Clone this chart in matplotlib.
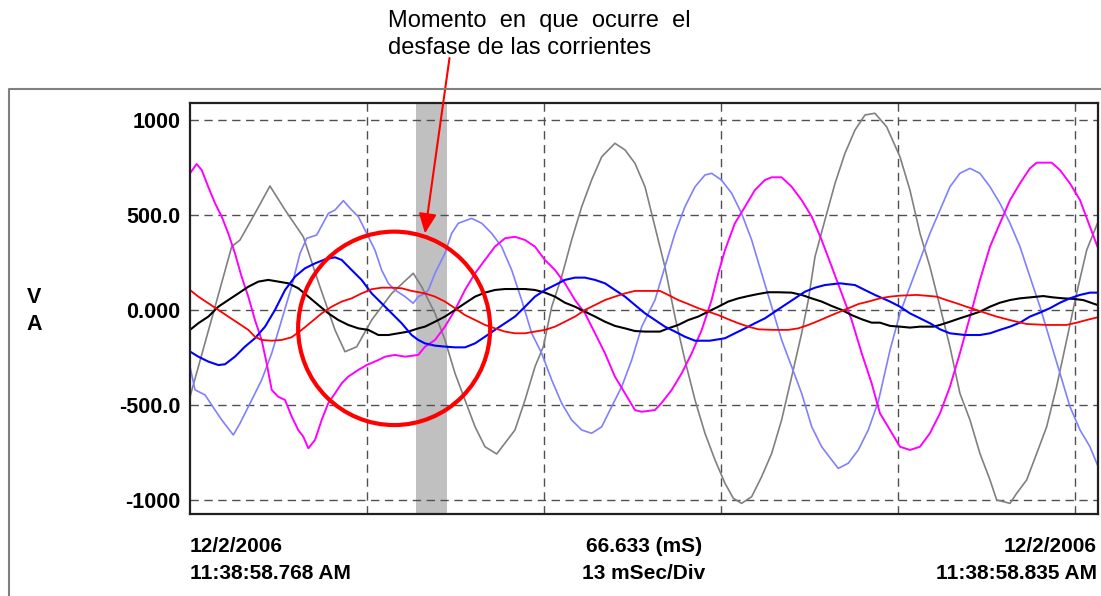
import matplotlib
matplotlib.use("Agg")
import matplotlib.pyplot as plt
from matplotlib.patches import Ellipse
from matplotlib.lines import Line2D

plt.rcParams['font.family'] = ['Liberation Sans', 'DejaVu Sans']

# Forma de onda registrada (tiempo en ms, valores en V / A)
gris_t = [0.00, 1.84, 3.06, 3.67, 4.77, 5.87, 6.98, 8.32, 9.54, 10.65, 11.38, 12.24,
          13.34, 14.81, 16.39, 17.01, 17.99, 18.72, 19.46, 20.19, 20.93, 21.66, 22.52,
          23.86, 24.60, 25.33, 25.94, 26.56, 27.29, 28.02, 28.76, 29.49, 30.23, 31.20,
          31.94, 32.67, 33.41, 34.38, 34.87, 35.61, 36.34, 37.08, 37.81, 38.55, 39.28,
          39.89, 40.50, 41.24, 41.97, 42.71, 43.44, 44.18, 44.91, 45.40, 45.89, 46.62,
          47.36, 48.09, 48.83, 49.56, 50.29, 51.15, 52.13, 52.86, 53.60, 54.33, 55.07,
          55.80, 56.53, 57.27, 58.00, 58.74, 59.23, 60.21, 60.70, 61.43, 62.17, 62.90,
          63.63, 64.37, 65.10, 65.84, 66.63]
gris_v = [-455, 19, 335, 370, 510, 654, 528, 387, 124, -104, -218, -192,
          -51, 89, 195, 124, -16, -156, -332, -472, -613, -718, -756,
          -630, -472, -297, -192, 19, 177, 370, 545, 686, 808, 879,
          844, 774, 650, 370, 229, -34, -262, -472, -647, -788, -910,
          -989, -1016, -981, -876, -753, -577, -349, -121, 54, 282, 475,
          668, 826, 949, 1028, 1037, 966, 808, 633, 405, 229, 19,
          -192, -437, -577, -753, -893, -998, -1016, -963, -893, -753, -613,
          -402, -156, 89, 317, 458]

celeste_t = [0.00, 0.37, 1.10, 1.84, 2.33, 3.18, 3.67, 4.04, 4.53, 5.26, 6.00, 6.73,
             7.46, 8.08, 8.57, 9.30, 10.16, 10.65, 11.26, 11.87, 12.36, 12.97, 13.58,
             14.07, 14.56, 15.05, 15.79, 16.39, 16.76, 17.25, 17.50, 17.99, 18.72,
             19.21, 19.70, 20.68, 21.42, 22.15, 22.88, 23.62, 24.35, 25.09, 25.82,
             26.56, 27.29, 28.02, 28.76, 29.49, 30.23, 30.96, 31.70, 32.43, 33.17,
             34.14, 34.87, 35.61, 36.34, 37.08, 37.81, 38.30, 39.02, 39.77, 40.50,
             41.24, 41.97, 42.71, 43.44, 44.18, 44.91, 45.65, 46.38, 47.12, 47.60,
             48.33, 49.07, 49.80, 50.54, 51.40, 52.13, 52.86, 53.60, 54.33, 55.07,
             55.80, 56.53, 57.27, 58.00, 58.74, 59.47, 60.21, 60.94, 61.67, 62.41,
             63.14, 63.88, 64.61, 65.35, 66.08, 66.63]
celeste_v = [-297, -419, -445, -525, -577, -656, -595, -542, -472, -367, -226, -51,
             125, 300, 379, 396, 510, 528, 577, 528, 493, 405, 317,
             212, 142, 107, 72, 37, 72, 89, 107, 195, 300,
             405, 458, 484, 458, 405, 335, 212, 54, -121, -226,
             -367, -489, -577, -630, -647, -613, -507, -402, -262, -86,
             54, 229, 405, 545, 650, 712, 721, 686, 616, 510,
             370, 195, 19, -156, -297, -437, -613, -718, -788, -832,
             -805, -735, -630, -480, -209, -16, 124, 265, 405, 528,
             650, 721, 747, 721, 650, 563, 458, 335, 177, 19,
             -156, -332, -507, -630, -718, -814]

magenta_t = [0.00, 0.49, 0.86, 1.34, 1.84, 2.33, 2.81, 3.30, 3.79, 4.28, 4.77, 5.26,
             5.63, 6.00, 6.48, 6.98, 7.47, 7.95, 8.32, 8.69, 9.18, 9.67, 10.15,
             10.65, 11.14, 11.62, 12.36, 12.97, 13.82, 14.32, 15.05, 15.79, 16.76,
             17.25, 17.99, 18.72, 19.46, 20.19, 20.93, 21.66, 22.39, 23.13, 23.86,
             24.60, 25.33, 26.06, 26.80, 27.53, 28.27, 29.00, 29.74, 30.47, 31.20,
             31.94, 32.67, 33.16, 34.14, 34.61, 35.37, 36.10, 36.84, 37.57, 38.30,
             38.79, 39.28, 40.01, 40.75, 41.48, 42.22, 42.71, 43.44, 44.18, 44.91,
             45.65, 46.38, 47.12, 47.85, 48.58, 49.32, 50.05, 50.66, 51.40, 52.13,
             52.86, 53.60, 54.33, 55.07, 55.80, 56.53, 57.27, 58.00, 58.74, 59.47,
             60.21, 60.94, 61.67, 62.17, 63.27, 63.88, 64.61, 65.35, 66.08, 66.63]
magenta_v = [721, 770, 738, 650, 563, 493, 405, 300, 177, 72, -51, -156,
             -279, -419, -455, -472, -560, -630, -665, -726, -682, -577, -489,
             -437, -384, -349, -314, -288, -262, -244, -235, -244, -235,
             -192, -156, -86, 2, 107, 195, 265, 335, 379, 387,
             370, 335, 265, 212, 142, 54, -16, -121, -226, -349,
             -437, -525, -534, -525, -489, -419, -332, -226, -104, 54,
             195, 317, 458, 545, 633, 686, 700, 700, 650, 580,
             493, 370, 229, 89, -51, -226, -384, -542, -630, -718,
             -735, -718, -647, -542, -402, -226, -34, 159, 335, 458,
             580, 668, 747, 777, 777, 738, 668, 580, 440, 335]

negro_t = [0.00, 0.61, 1.35, 2.08, 2.81, 3.55, 4.28, 5.02, 5.75, 6.49, 7.22, 7.95,
           8.69, 9.42, 10.16, 10.89, 11.62, 12.36, 13.09, 13.83, 14.56, 15.30, 16.03,
           16.76, 17.25, 17.99, 18.72, 19.46, 20.19, 20.93, 21.66, 22.39, 23.13,
           23.86, 24.60, 25.33, 26.07, 26.80, 27.53, 28.27, 29.00, 29.74, 30.47,
           31.20, 31.94, 32.67, 33.41, 34.51, 35.11, 35.85, 36.59, 37.32, 38.05,
           38.79, 39.52, 40.26, 40.99, 41.73, 42.46, 43.19, 44.17, 44.91, 45.64,
           46.38, 47.11, 47.85, 48.58, 49.32, 50.05, 50.66, 51.40, 52.13, 52.86,
           53.60, 54.58, 55.07, 55.80, 56.53, 57.27, 58.00, 58.74, 59.47, 60.21,
           60.94, 61.67, 62.65, 63.38, 64.12, 64.85, 65.58, 66.63]
negro_v = [-103, -68, -33, 19, 54, 89, 124, 151, 160, 151, 142, 116,
           72, 28, -16, -51, -77, -95, -103, -130, -130, -121, -112,
           -95, -86, -60, -33, 2, 37, 72, 93, 107, 112,
           112, 112, 107, 93, 72, 40, 19, -7, -33, -60,
           -82, -95, -109, -112, -112, -95, -77, -51, -33, -7,
           19, 46, 63, 75, 86, 95, 95, 93, 81, 63,
           46, 23, 2, -25, -47, -65, -65, -82, -86, -91,
           -86, -86, -77, -60, -42, -25, -7, 19, 40, 54,
           63, 68, 75, 68, 63, 60, 54, 28]

azul_t = [0.00, 0.61, 1.35, 2.08, 2.57, 3.30, 4.04, 4.77, 5.51, 6.24, 6.98, 7.71,
          8.44, 9.18, 9.91, 10.65, 11.14, 11.87, 12.60, 13.34, 14.07, 14.81, 15.54,
          16.27, 16.76, 17.25, 17.99, 18.72, 19.46, 20.19, 20.93, 21.66, 22.39,
          23.13, 23.86, 24.60, 25.33, 26.07, 26.80, 27.53, 28.27, 29.00, 29.74,
          30.47, 31.20, 31.94, 32.67, 33.41, 34.14, 34.87, 35.61, 36.34, 37.08,
          38.17, 39.28, 40.01, 40.75, 41.48, 42.22, 42.95, 43.68, 44.42, 45.15,
          45.89, 46.62, 47.73, 48.82, 49.55, 50.29, 51.40, 52.13, 52.86, 53.60,
          54.33, 55.07, 55.80, 56.90, 58.00, 58.74, 59.47, 60.21, 60.94, 61.67,
          62.41, 63.14, 63.88, 64.61, 65.35, 66.08, 66.63]
azul_v = [-217, -244, -270, -288, -284, -244, -191, -147, -86, 2, 107, 177,
          221, 247, 268, 279, 265, 212, 160, 89, 37, -16, -68,
          -130, -156, -174, -186, -191, -195, -195, -174, -139, -103,
          -68, -33, 19, 72, 107, 133, 160, 172, 172, 160,
          142, 107, 72, 28, -16, -51, -86, -112, -139, -160,
          -160, -147, -121, -95, -68, -42, -7, 28, 63, 98,
          119, 133, 142, 133, 107, 81, 46, 19, -16, -42,
          -68, -100, -121, -130, -130, -121, -103, -86, -65, -33,
          -12, 11, 40, 63, 81, 93, 93]

rojo_t = [0.00, 0.61, 1.35, 2.08, 2.81, 3.55, 4.28, 4.77, 5.26, 6.00, 6.73, 7.46,
          8.20, 8.93, 9.67, 10.40, 11.14, 11.87, 12.60, 13.34, 14.07, 14.81, 15.54,
          16.27, 17.25, 17.99, 18.72, 19.46, 20.19, 20.93, 21.66, 22.39, 23.13,
          23.86, 24.60, 25.33, 26.07, 26.80, 27.53, 28.27, 29.00, 29.74, 30.47,
          31.20, 31.94, 32.67, 33.41, 34.51, 35.11, 35.85, 36.59, 37.32, 38.05,
          38.79, 39.52, 40.26, 40.99, 41.73, 42.83, 43.93, 44.66, 45.40, 46.13,
          46.87, 47.61, 48.34, 49.08, 49.81, 50.66, 51.40, 52.13, 53.35, 54.82,
          55.54, 56.28, 57.01, 57.75, 58.48, 59.22, 59.96, 60.69, 61.43, 62.90,
          64.37, 65.10, 65.84, 66.63]
rojo_v = [107, 72, 37, 2, -33, -68, -103, -139, -156, -160, -156, -142,
          -103, -60, -16, 19, 46, 63, 89, 111, 119, 119, 116,
          102, 89, 72, 46, 11, -25, -51, -77, -95, -112,
          -121, -121, -112, -103, -86, -60, -33, 2, 28, 54,
          72, 89, 102, 102, 102, 81, 54, 33, 11, -7,
          -25, -47, -68, -86, -100, -103, -103, -95, -77, -56,
          -33, -11, 11, 33, 46, 63, 72, 77, 81, 72,
          54, 37, 19, 2, -16, -33, -47, -60, -72, -77,
          -77, -65, -51, -37]

series = [
    (gris_t, gris_v, '#808080', 1.2),
    (celeste_t, celeste_v, '#8080ff', 1.2),
    (magenta_t, magenta_v, '#ff00ff', 1.4),
    (negro_t, negro_v, '#000000', 1.5),
    (azul_t, azul_v, '#0000ff', 1.5),
    (rojo_t, rojo_v, '#ff0000', 1.3),
]

y_ticks = [1000, 500, 0, -500, -1000]
y_labels = ['1000', '500.0', '0.000', '-500.0', '-1000']
x_grid = [13, 26, 39, 52, 65]   # 13 mSec/Div
t_total = 66.633

# zona sombreada y círculo del desfase
banda = (16.59, 18.89)
circulo_c = (14.99, -95)
circulo_w, circulo_h = 14.1, 1018
flecha_punta = (17.25, 405)

W, H = 1101, 596
fig = plt.figure(figsize=(W / 100, H / 100), dpi=100)
ax = fig.add_axes([190 / W, 1 - 514 / H, (1098 - 190) / W, (514 - 103) / H])

ax.axvspan(banda[0], banda[1], color='#c0c0c0', lw=0, zorder=0.5)

for t, v, c, lw in series:
    ax.plot(t, v, color=c, lw=lw, zorder=2)

ax.set_xlim(0, 66.67)
ax.set_ylim(-1072, 1091)
ax.set_xticks(x_grid)
ax.set_xticklabels([])
ax.set_yticks(y_ticks)
ax.set_yticklabels(y_labels, fontsize=15.5, fontweight='bold')
ax.tick_params(axis='both', length=0)
ax.tick_params(axis='y', pad=7)
ax.grid(True, color='#505050', lw=1.0, linestyle=(0, (6, 4)))
for s in ax.spines.values():
    s.set_linewidth(1.6)
    s.set_color('#202020')

ax.add_patch(Ellipse(circulo_c, circulo_w, circulo_h, fill=False,
                     edgecolor='#ff0000', lw=3, zorder=5))

# marco exterior
fig.add_artist(Line2D([9 / W, 9 / W, 1.0], [0, 1 - 89 / H, 1 - 89 / H],
                      transform=fig.transFigure, color='#808080', lw=1.5))

# anotación
ax.annotate('', xy=flecha_punta, xycoords='data',
            xytext=(449.5 / W, 1 - 58 / H), textcoords='figure fraction',
            arrowprops=dict(arrowstyle='-|>,head_length=0.6,head_width=0.27',
                            mutation_scale=20, color='#ff0000', lw=1.5,
                            shrinkA=0, shrinkB=0),
            annotation_clip=False, zorder=6)
fig.text(388 / W, 1 - 27 / H, 'Momento  en  que  ocurre  el', fontsize=17, va='baseline')
fig.text(388 / W, 1 - 54 / H, 'desfase de las corrientes', fontsize=17, va='baseline')

# eje vertical
fig.text(34 / W, 1 - 303 / H, 'V', fontsize=15.5, fontweight='bold', ha='center', va='baseline')
fig.text(34 / W, 1 - 330 / H, 'A', fontsize=15.5, fontweight='bold', ha='center', va='baseline')

# etiquetas inferiores
bold = dict(fontsize=15, fontweight='bold', va='baseline')
fig.text(190 / W, 1 - 552 / H, '12/2/2006', ha='left', **bold)
fig.text(190 / W, 1 - 579 / H, '11:38:58.768 AM', ha='left', **bold)
fig.text(644 / W, 1 - 552 / H, f'{t_total:.3f} (mS)', ha='center', **bold)
fig.text(644 / W, 1 - 579 / H, '13 mSec/Div', ha='center', **bold)
fig.text(1097 / W, 1 - 552 / H, '12/2/2006', ha='right', **bold)
fig.text(1097 / W, 1 - 579 / H, '11:38:58.835 AM', ha='right', **bold)

fig.savefig('out.png', dpi=100)
